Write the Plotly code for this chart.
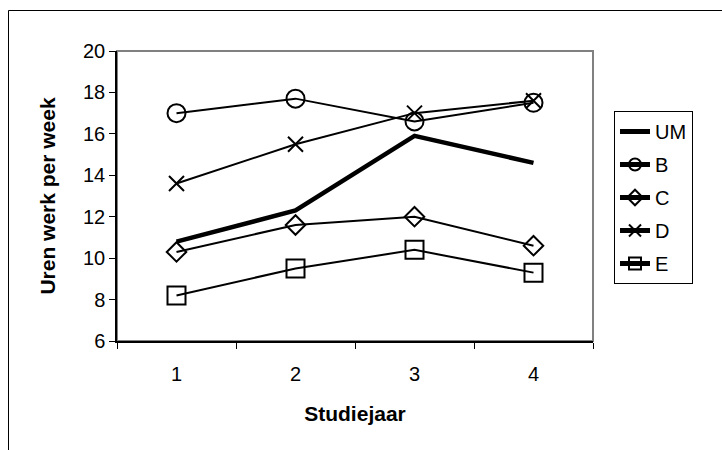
import plotly.graph_objects as go

years = ["1", "2", "3", "4"]
um = [10.8, 12.3, 15.9, 14.6]
b = [17.0, 17.7, 16.6, 17.5]
c = [10.3, 11.6, 12.0, 10.6]
d = [13.6, 15.5, 17.0, 17.6]
e = [8.2, 9.5, 10.4, 9.3]

FONT = "Liberation Sans, Arial, sans-serif"

fig = go.Figure()
fig.add_trace(go.Scatter(x=years, y=um, name="UM", mode="lines",
                         line=dict(color="black", width=4.5), legendgroup="UM"))
specs = [("B", b, "circle-open", 18), ("C", c, "diamond-open", 15),
         ("D", d, "x-thin-open", 15), ("E", e, "square-open", 18)]
for name, vals, sym, sz in specs:
    fig.add_trace(go.Scatter(x=years, y=vals, name=name, mode="lines+markers",
                             line=dict(color="black", width=2),
                             marker=dict(symbol=sym, size=sz, color="black",
                                         line=dict(color="black", width=2)),
                             legendgroup=name))

W, H = 722, 450
L, R, T, B = 117, 593, 51, 341

def px(xp):
    return (xp - L) / (R - L)

def py(yp):
    return (B - yp) / (B - T)

fig.update_layout(
    width=W, height=H,
    margin=dict(l=L, r=W - R, t=T, b=H - B),
    paper_bgcolor="white", plot_bgcolor="white",
    font=dict(family=FONT, size=20, color="black"),
    showlegend=True,
    legend=dict(x=px(614), y=py(111), xanchor="left", yanchor="top",
                bordercolor="black", borderwidth=1, bgcolor="white",
                font=dict(size=20), tracegroupgap=4, itemsizing="constant",
                entrywidth=120, entrywidthmode="pixels"),
    xaxis=dict(type="category", range=[-0.5, 3.5], showline=True, linecolor="black",
               linewidth=1.5, ticks="outside", tickson="boundaries", ticklen=6,
               tickcolor="black", showgrid=False, zeroline=False,
               title=dict(text="<b>Studiejaar</b>", font=dict(size=21), standoff=23),
               ticklabelstandoff=14),
    yaxis=dict(range=[6, 20], dtick=2, showline=True, linecolor="black", linewidth=1.5,
               ticks="outside", ticklen=6, tickcolor="black",
               showgrid=False, zeroline=False,
               title=dict(text="<b>Uren werk per week</b>", font=dict(size=21), standoff=22)),
    shapes=[
        dict(type="rect", xref="paper", yref="paper", x0=0, x1=1, y0=0, y1=1,
             line=dict(color="#808080", width=2), layer="below"),
        dict(type="rect", xref="paper", yref="paper",
             x0=px(8.5), x1=px(740), y0=py(470), y1=py(10.5),
             line=dict(color="black", width=1), layer="below"),
    ],
)

fig.write_html("out.html")
